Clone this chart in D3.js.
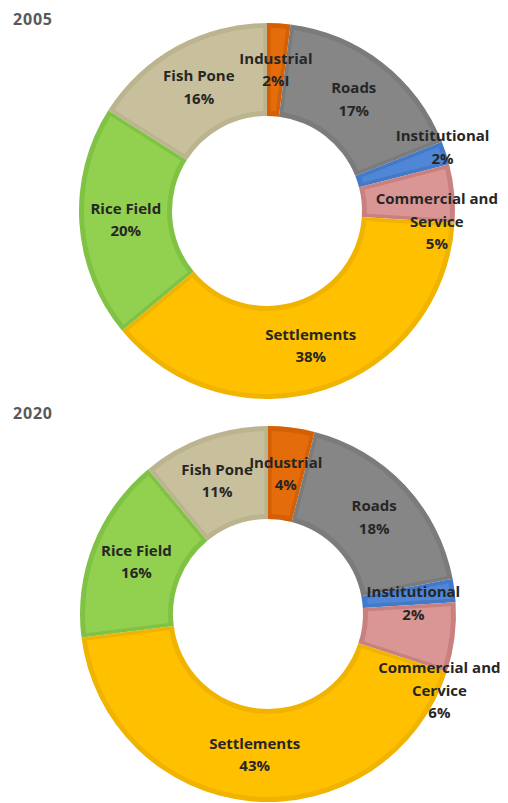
<!DOCTYPE html>
<html lang="en">
<head>
<meta charset="UTF-8">
<title>Land use 2005 and 2020</title>
<style>
    body { margin: 0; background: #fff; }
    .year { font-family: "Open Sans", sans-serif; font-weight: bold; font-size: 16px; letter-spacing: 0.8px; fill: #595959; }
    .lbl { font-family: "Open Sans", sans-serif; font-weight: bold; font-size: 15px; fill: #262626; text-anchor: middle; }
</style>
</head>
<body>
<svg width="508" height="803"></svg>
<script src="https://d3js.org/d3.v7.min.js"></script>
<script>
// data
var categories = ["Industrial", "Roads", "Institutional", "Commercial and Service", "Settlements", "Rice Field", "Fish Pone"];
var years = ["2005", "2020"];
var values2005 = [2, 17, 2, 5, 38, 20, 16];
var values2020 = [4, 18, 2, 6, 43, 16, 11];
// label text as printed (name lines, the % line is added from the values)
var names2005 = [["Industrial"], ["Roads"], ["Institutional"], ["Commercial and", "Service"], ["Settlements"], ["Rice Field"], ["Fish Pone"]];
var names2020 = [["Industrial"], ["Roads"], ["Institutional"], ["Commercial and", "Cervice"], ["Settlements"], ["Rice Field"], ["Fish Pone"]];
var pctSuffix2005 = ["I", "", "", "", "", "", ""]; // stray mark after 2% in the original

var fills = ["#e46c0a", "#868686", "#4f86d6", "#da9694", "#ffc000", "#92d050", "#c8c09c"];
var edges = ["#d45f05", "#7b7b7b", "#4379c8", "#c9817f", "#f0b300", "#80c244", "#bcb38f"];

// layout
var charts = [
    { year: years[0], values: values2005, names: names2005, suffix: pctSuffix2005, cx: 267, cy: 211, ty: 25,
      nudge: [[0, 0], [0, 0], [41, -20], [29, 24], [0, 0], [0, 0], [0, 0]] },
    { year: years[1], values: values2020, names: names2020, suffix: null, cx: 268, cy: 614, ty: 419,
      nudge: [[0, 0], [3, 0], [5, 7], [31, 59], [0, 0], [0, 0], [-3, 0]] }
];
var rOuter = 188, rInner = 95, lineH = 22.5;

var svg = d3.select("svg");

var pie = d3.pie().sort(null).value(function (d) { return d; });
var arcOuter = d3.arc().innerRadius(rInner).outerRadius(rOuter);
var arcInset = d3.arc().innerRadius(rInner + 5).outerRadius(rOuter - 5).padAngle(0.035);
var arcLabel = d3.arc().innerRadius((rInner + rOuter) / 2).outerRadius((rInner + rOuter) / 2);

charts.forEach(function (c) {
    svg.append("text").attr("class", "year").attr("x", 13).attr("y", c.ty).text(c.year);

    var g = svg.append("g").attr("transform", "translate(" + c.cx + "," + c.cy + ")");
    var arcs = pie(c.values);

    // darker rim
    g.selectAll("path.rim").data(arcs).enter().append("path")
        .attr("class", "rim")
        .attr("d", arcOuter)
        .attr("fill", function (d, i) { return edges[i]; });

    // lighter body
    g.selectAll("path.body").data(arcs).enter().append("path")
        .attr("class", "body")
        .attr("d", arcInset)
        .attr("fill", function (d, i) { return fills[i]; });

    // labels
    var lbl = g.selectAll("text.lbl").data(arcs).enter().append("text")
        .attr("class", "lbl")
        .attr("transform", function (d, i) {
            var p = arcLabel.centroid(d);
            return "translate(" + (p[0] + c.nudge[i][0]) + "," + (p[1] + c.nudge[i][1]) + ")";
        });

    lbl.each(function (d, i) {
        var lines = c.names[i].concat([d.data + "%" + (c.suffix ? c.suffix[i] : "")]);
        var t = d3.select(this);
        lines.forEach(function (s, k) {
            t.append("tspan")
                .attr("x", 0)
                .attr("y", (k - (lines.length - 1) / 2) * lineH)
                .attr("dy", "0.35em")
                .text(s);
        });
    });
});
</script>
</body>
</html>
